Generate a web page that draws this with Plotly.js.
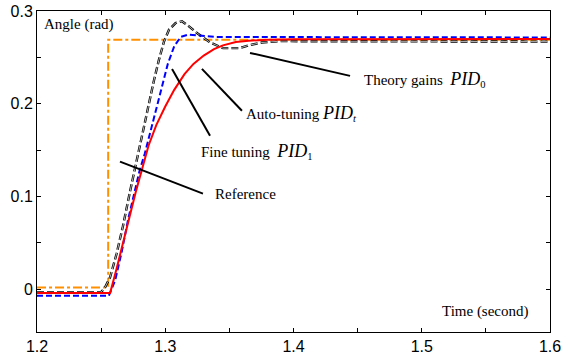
<!DOCTYPE html>
<html>
<head>
<meta charset="utf-8">
<script src="https://cdn.plot.ly/plotly-3.0.1.min.js"></script>
<style>html,body{margin:0;padding:0;background:#fff;}#chart{width:568px;height:352px;}</style>
</head>
<body>
<div id="chart"></div>
<script>
// Reference step
const refX = [1.2, 1.2555, 1.2555, 1.6];
const refY = [0.002, 0.002, 0.269, 0.269];

// Auto-tuning (red, solid)
const autoX = [1.2, 1.257, 1.262, 1.267, 1.272, 1.277, 1.282, 1.287, 1.293, 1.3, 1.307, 1.315, 1.322, 1.33, 1.338, 1.345, 1.355, 1.365, 1.38, 1.4, 1.6];
const autoY = [-0.004, -0.004, 0.022, 0.05, 0.078, 0.105, 0.13, 0.155, 0.177, 0.197, 0.215, 0.232, 0.243, 0.252, 0.259, 0.263, 0.2665, 0.268, 0.269, 0.2695, 0.2698];

// Fine tuning (blue, dashed)
const fineX = [1.2, 1.256, 1.261, 1.266, 1.271, 1.276, 1.28, 1.284, 1.288, 1.291, 1.296, 1.302, 1.307, 1.312, 1.318, 1.325, 1.34, 1.6];
const fineY = [-0.007, -0.007, 0.01, 0.04, 0.075, 0.106, 0.128, 0.146, 0.168, 0.185, 0.211, 0.243, 0.262, 0.272, 0.2745, 0.2735, 0.272, 0.2715];

// Theory gains (black, dashed)
const theoX = [1.2, 1.25, 1.253, 1.257, 1.262, 1.267, 1.272, 1.277, 1.282, 1.287, 1.291, 1.295, 1.299, 1.303, 1.308, 1.313, 1.318, 1.325, 1.335, 1.345, 1.358, 1.365, 1.375, 1.39, 1.6];
const theoY = [-0.003, -0.003, 0.002, 0.013, 0.038, 0.068, 0.102, 0.135, 0.168, 0.199, 0.224, 0.247, 0.267, 0.28, 0.287, 0.289, 0.284, 0.276, 0.266, 0.26, 0.26, 0.263, 0.266, 0.2675, 0.267];

const xTickStep = 0.1;
const xMinorStep = 0.05;
const yTickStep = 0.1;
const yMinorStep = 0.05;

const traces = [
  {x: refX, y: refY, mode: 'lines', name: 'Reference', line: {color: '#FF9000', width: 2, dash: 'dashdot'}},
  {x: theoX, y: theoY, mode: 'lines', name: 'Theory gains', line: {color: '#000000', width: 2.4, dash: '7px,3px'}},
  {x: theoX, y: theoY, mode: 'lines', name: 'Theory gains (inner)', line: {color: '#ffffff', width: 0.7, dash: '7px,3px'}},
  {x: fineX, y: fineY, mode: 'lines', name: 'Fine tuning', line: {color: '#0000FF', width: 2, dash: '6px,3px'}},
  {x: autoX, y: autoY, mode: 'lines', name: 'Auto-tuning', line: {color: '#FF0000', width: 2}}
];

const serif = 'Liberation Serif';
function pointer(x0, y0, x1, y1) {
  return {type: 'line', xref: 'x', yref: 'y', x0: x0, y0: y0, x1: x1, y1: y1, line: {color: '#000', width: 2}};
}
function label(text, x, y) {
  return {text: text, x: x, y: y, xref: 'x', yref: 'y', showarrow: false, xanchor: 'left', yanchor: 'middle',
    font: {family: serif, size: 15, color: '#000'}};
}
const PID = '<i><span style="font-size:18px">PID</span></i>';

const shapes = [
  pointer(1.3661, 0.2548, 1.4441, 0.2301),
  pointer(1.3286, 0.2376, 1.3598, 0.1925),
  pointer(1.3053, 0.2376, 1.3349, 0.1656),
  pointer(1.2647, 0.1376, 1.3294, 0.1032)
];

const annotations = [
  label('Theory gains  ' + PID + '<sub>0</sub>', 1.4535, 0.226),
  label('Auto-tuning ' + PID + '<sub><i>t</i></sub>', 1.3615, 0.19),
  label('Fine tuning  ' + PID + '<sub>1</sub>', 1.3262, 0.149),
  label('Reference', 1.3374, 0.103),
  {text: 'Angle (rad)', x: 0.01, y: 0.99, xref: 'paper', yref: 'paper', showarrow: false, xanchor: 'left', yanchor: 'top', font: {family: serif, size: 15, color: '#000'}},
  {text: 'Time (second)', x: 0.962, y: 0.03, xref: 'paper', yref: 'paper', showarrow: false, xanchor: 'right', yanchor: 'bottom', font: {family: serif, size: 15, color: '#000'}}
];

const axisCommon = {
  ticks: 'inside', ticklen: 4, tickcolor: '#000', showline: true, linecolor: '#000', linewidth: 1,
  mirror: 'ticks', showgrid: false, zeroline: false,
  tickfont: {family: 'Liberation Sans', size: 16, color: '#000'}
};

const layout = {
  width: 568, height: 352,
  margin: {l: 37, r: 18, t: 11, b: 20},
  paper_bgcolor: '#fff', plot_bgcolor: '#fff',
  showlegend: false,
  xaxis: Object.assign({range: [1.2, 1.6], tick0: 1.2, dtick: xTickStep,
    minor: {tick0: 1.2, dtick: xMinorStep, ticks: 'inside', ticklen: 4, tickcolor: '#000', showgrid: false}}, axisCommon),
  yaxis: Object.assign({range: [-0.046, 0.3], tick0: 0, dtick: yTickStep,
    minor: {tick0: 0, dtick: yMinorStep, ticks: 'inside', ticklen: 4, tickcolor: '#000', showgrid: false}}, axisCommon),
  shapes: shapes,
  annotations: annotations
};

Plotly.newPlot('chart', traces, layout, {displayModeBar: false, staticPlot: true});
</script>
</body>
</html>
